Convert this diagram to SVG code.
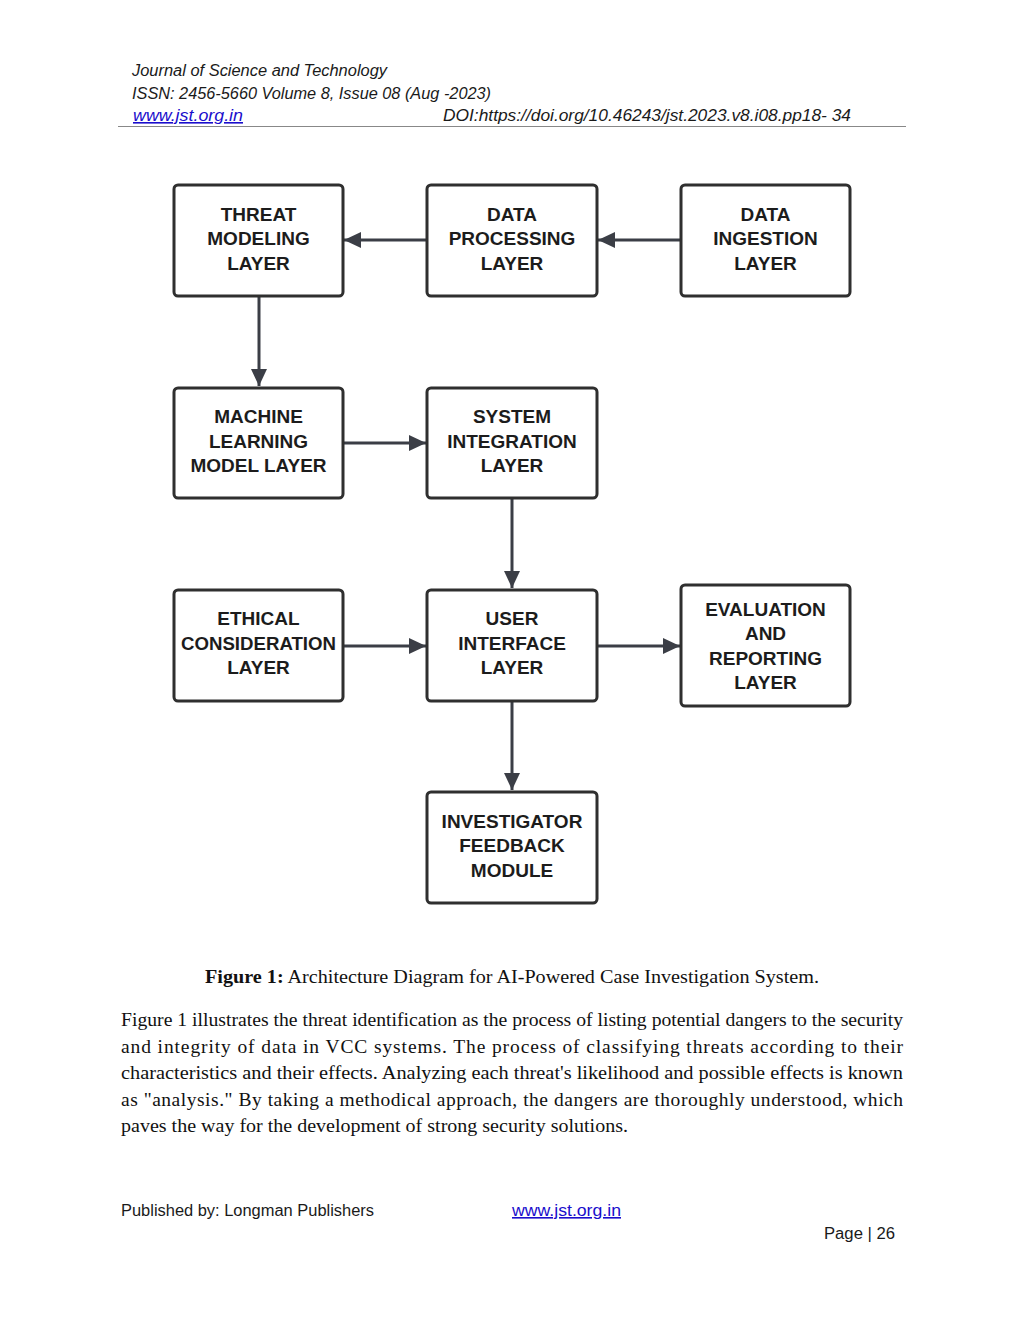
<svg xmlns="http://www.w3.org/2000/svg" width="1024" height="1325" viewBox="0 0 1024 1325">
<style>
.hdr{font-family:"Liberation Sans",Arial,sans-serif;font-style:italic;font-size:16px;fill:#1a1a1a}
.foot{font-family:"Liberation Sans",Arial,sans-serif;font-size:16px;fill:#1a1a1a}
text.lnk{fill:#1a0dcc;text-decoration:underline}
.box{fill:#ffffff;stroke:#2f2f2f;stroke-width:3}
.lbl{font-family:"Liberation Sans",Arial,sans-serif;font-weight:bold;font-size:19px;fill:#1c1c1c;text-anchor:middle}
.con{stroke:#3b3e46;stroke-width:3;fill:none}
.body{font-family:"Liberation Serif","Times New Roman",serif;font-size:19.5px;fill:#111}
</style>
<defs>
<marker id="ah" markerUnits="userSpaceOnUse" markerWidth="18" markerHeight="16" refX="17" refY="8" orient="auto">
<path d="M0,0 L17,8 L0,16 Z" fill="#3b3e46"/>
</marker>
</defs>
<rect width="1024" height="1325" fill="#ffffff"/>
<g id="header">
<text class="hdr" x="132" y="76" textLength="255" lengthAdjust="spacingAndGlyphs">Journal of Science and Technology</text>
<text class="hdr" x="132" y="99" textLength="359" lengthAdjust="spacingAndGlyphs">ISSN: 2456-5660 Volume 8, Issue 08 (Aug -2023)</text>
<text class="hdr lnk" x="133" y="121" textLength="110" lengthAdjust="spacingAndGlyphs">www.jst.org.in</text>
<text class="hdr" x="443" y="121" textLength="408" lengthAdjust="spacingAndGlyphs">DOI:https://doi.org/10.46243/jst.2023.v8.i08.pp18- 34</text>
<line x1="118" y1="126.5" x2="906" y2="126.5" stroke="#888" stroke-width="1"/>
</g>
<g id="connectors">
<line class="con" x1="427" y1="240" x2="344" y2="240" marker-end="url(#ah)"/>
<line class="con" x1="681" y1="240" x2="598" y2="240" marker-end="url(#ah)"/>
<line class="con" x1="259" y1="296" x2="259" y2="386" marker-end="url(#ah)"/>
<line class="con" x1="343" y1="443" x2="426" y2="443" marker-end="url(#ah)"/>
<line class="con" x1="512" y1="498" x2="512" y2="588" marker-end="url(#ah)"/>
<line class="con" x1="343" y1="646" x2="426" y2="646" marker-end="url(#ah)"/>
<line class="con" x1="597" y1="646" x2="680" y2="646" marker-end="url(#ah)"/>
<line class="con" x1="512" y1="701" x2="512" y2="790" marker-end="url(#ah)"/>
</g>
<g id="threat-modeling">
<rect class="box" x="174" y="185" width="169" height="111" rx="4"/>
<text class="lbl" x="258.5" y="221">THREAT</text>
<text class="lbl" x="258.5" y="245">MODELING</text>
<text class="lbl" x="258.5" y="270">LAYER</text>
</g>
<g id="data-processing">
<rect class="box" x="427" y="185" width="170" height="111" rx="4"/>
<text class="lbl" x="512" y="221">DATA</text>
<text class="lbl" x="512" y="245">PROCESSING</text>
<text class="lbl" x="512" y="270">LAYER</text>
</g>
<g id="data-ingestion">
<rect class="box" x="681" y="185" width="169" height="111" rx="4"/>
<text class="lbl" x="765.5" y="221">DATA</text>
<text class="lbl" x="765.5" y="245">INGESTION</text>
<text class="lbl" x="765.5" y="270">LAYER</text>
</g>
<g id="machine-learning">
<rect class="box" x="174" y="388" width="169" height="110" rx="4"/>
<text class="lbl" x="258.5" y="423">MACHINE</text>
<text class="lbl" x="258.5" y="448">LEARNING</text>
<text class="lbl" x="258.5" y="472">MODEL LAYER</text>
</g>
<g id="system-integration">
<rect class="box" x="427" y="388" width="170" height="110" rx="4"/>
<text class="lbl" x="512" y="423">SYSTEM</text>
<text class="lbl" x="512" y="448">INTEGRATION</text>
<text class="lbl" x="512" y="472">LAYER</text>
</g>
<g id="ethical-consideration">
<rect class="box" x="174" y="590" width="169" height="111" rx="4"/>
<text class="lbl" x="258.5" y="625">ETHICAL</text>
<text class="lbl" x="258.5" y="650" textLength="155" lengthAdjust="spacingAndGlyphs">CONSIDERATION</text>
<text class="lbl" x="258.5" y="674">LAYER</text>
</g>
<g id="user-interface">
<rect class="box" x="427" y="590" width="170" height="111" rx="4"/>
<text class="lbl" x="512" y="625">USER</text>
<text class="lbl" x="512" y="650">INTERFACE</text>
<text class="lbl" x="512" y="674">LAYER</text>
</g>
<g id="evaluation-reporting">
<rect class="box" x="681" y="585" width="169" height="121" rx="4"/>
<text class="lbl" x="765.5" y="616">EVALUATION</text>
<text class="lbl" x="765.5" y="640">AND</text>
<text class="lbl" x="765.5" y="665">REPORTING</text>
<text class="lbl" x="765.5" y="689">LAYER</text>
</g>
<g id="investigator-feedback">
<rect class="box" x="427" y="792" width="170" height="111" rx="4"/>
<text class="lbl" x="512" y="828">INVESTIGATOR</text>
<text class="lbl" x="512" y="852">FEEDBACK</text>
<text class="lbl" x="512" y="877">MODULE</text>
</g>
<g id="caption">
<text class="body" x="205" y="983" textLength="614" lengthAdjust="spacingAndGlyphs"><tspan font-weight="bold">Figure 1:</tspan> Architecture Diagram for AI-Powered Case Investigation System.</text>
</g>
<g id="body-text">
<text class="body" x="121" y="1026" textLength="782" lengthAdjust="spacingAndGlyphs">Figure 1 illustrates the threat identification as the process of listing potential dangers to the security</text>
<text class="body" x="121" y="1053" textLength="782" lengthAdjust="spacing">and integrity of data in VCC systems. The process of classifying threats according to their</text>
<text class="body" x="121" y="1079" textLength="782" lengthAdjust="spacingAndGlyphs">characteristics and their effects. Analyzing each threat's likelihood and possible effects is known</text>
<text class="body" x="121" y="1106" textLength="782" lengthAdjust="spacing">as "analysis." By taking a methodical approach, the dangers are thoroughly understood, which</text>
<text class="body" x="121" y="1132" textLength="507" lengthAdjust="spacingAndGlyphs">paves the way for the development of strong security solutions.</text>
</g>
<g id="footer">
<text class="foot" x="121" y="1216" textLength="253" lengthAdjust="spacingAndGlyphs">Published by: Longman Publishers</text>
<text class="foot lnk" x="512" y="1216" textLength="109" lengthAdjust="spacingAndGlyphs">www.jst.org.in</text>
<text class="foot" x="824" y="1239" textLength="71" lengthAdjust="spacingAndGlyphs">Page | 26</text>
</g>
</svg>
